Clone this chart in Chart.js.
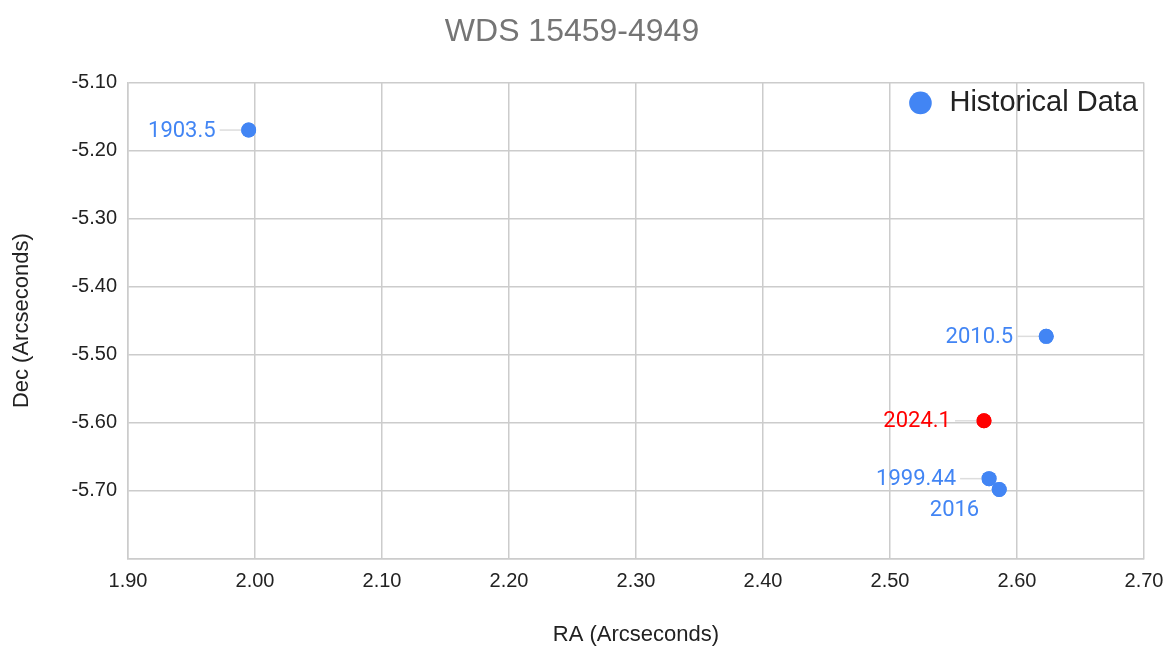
<!DOCTYPE html>
<html>
<head>
<meta charset="utf-8">
<script src="https://cdn.jsdelivr.net/npm/chart.js@4.4.1/dist/chart.umd.min.js"></script>
<style>
  body { margin: 0; background: #fff; }
  #wrap { width: 1169px; height: 648px; }
</style>
</head>
<body>
<div id="wrap"><canvas id="orbitChart" width="1169" height="648"></canvas></div>
<script>
// Medidas históricas (RA / Dec em segundos de arco)
const historyYears = ['1903.5', '1999.44', '2010.5', '2016'];
const historyRA = [1.995, 2.578, 2.623, 2.586];
const historyDec = [-5.170, -5.682, -5.473, -5.698];

// Medida nova
const latestYears = ['2024.1'];
const latestRA = [2.574];
const latestDec = [-5.597];

const xTicks = [1.90, 2.00, 2.10, 2.20, 2.30, 2.40, 2.50, 2.60, 2.70];
const yTicks = [-5.10, -5.20, -5.30, -5.40, -5.50, -5.60, -5.70];

const BLUE = '#4285f4';
const RED = '#ff0000';
const FONT = "'Liberation Sans', Arial, sans-serif";

// posição das etiquetas (dx, dy relativos ao ponto, leader = linha de ligação)
const labelPlacement = {
    '2016': { dx: -20, dy: 20, leader: false }
};

const toPoints = (xs, ys) => xs.map((x, i) => ({ x: x, y: ys[i] }));

// Desenha os anos ao lado de cada ponto
const pointLabels = {
    id: 'pointLabels',
    afterDatasetsDraw(chart) {
        const ctx = chart.ctx;
        ctx.save();
        ctx.font = "22px Roboto, 'Liberation Sans', sans-serif";
        ctx.textBaseline = 'middle';
        ctx.textAlign = 'right';
        chart.data.datasets.forEach((ds, di) => {
            const meta = chart.getDatasetMeta(di);
            meta.data.forEach((pt, i) => {
                const text = ds.yearLabels[i];
                const place = labelPlacement[text] || { dx: -33, dy: 0, leader: true };
                if (place.leader) {
                    ctx.strokeStyle = '#dddddd';
                    ctx.lineWidth = 1.5;
                    ctx.beginPath();
                    ctx.moveTo(pt.x - 29, pt.y);
                    ctx.lineTo(pt.x - 7, pt.y);
                    ctx.stroke();
                }
                ctx.fillStyle = ds.backgroundColor;
                ctx.fillText(text, pt.x + place.dx, pt.y + place.dy + 1);
            });
        });
        // redesenha os pontos por cima das linhas
        chart.data.datasets.forEach((ds, di) => {
            chart.getDatasetMeta(di).data.forEach(pt => pt.draw(ctx, chart.chartArea));
        });
        ctx.restore();
    }
};

// Move a legenda para o canto superior direito da área do gráfico
const legendTopRight = {
    id: 'legendTopRight',
    afterLayout(chart) {
        const lg = chart.legend;
        if (!lg || !lg.columnSizes || !lg.columnSizes.length) return;
        const pad = lg.options.labels.padding;
        const w = pad + lg.columnSizes[0].width;
        const area = chart.chartArea;
        lg.left = area.right - 6 - w;
        lg.right = lg.left + lg.width;
        lg.top = area.top;
        lg.bottom = lg.top + lg.height;
    }
};

const ctx = document.getElementById('orbitChart').getContext('2d');
new Chart(ctx, {
    type: 'scatter',
    data: {
        datasets: [
            {
                label: 'Historical Data',
                data: toPoints(historyRA, historyDec),
                yearLabels: historyYears,
                backgroundColor: BLUE,
                borderWidth: 0,
                pointRadius: 7.5,
                pointHoverRadius: 7.5
            },
            {
                label: 'Latest',
                data: toPoints(latestRA, latestDec),
                yearLabels: latestYears,
                backgroundColor: RED,
                borderWidth: 0,
                pointRadius: 7.5,
                pointHoverRadius: 7.5
            }
        ]
    },
    options: {
        responsive: false,
        animation: false,
        layout: { padding: { left: 0, right: 25, top: 0, bottom: 0 } },
        scales: {
            x: {
                type: 'linear',
                min: xTicks[0],
                max: xTicks[xTicks.length - 1],
                afterBuildTicks: scale => { scale.ticks = xTicks.map(v => ({ value: v })); },
                afterFit: scale => {
                    scale.height = 89;
                    scale.paddingRight = 18;
                },
                ticks: {
                    padding: 10,
                    color: '#222',
                    font: { family: FONT, size: 20 },
                    callback: v => Number(v).toFixed(2)
                },
                grid: { color: '#cccccc', lineWidth: 1.5, drawTicks: false },
                border: { color: '#cccccc', width: 1.5 },
                title: {
                    display: true,
                    text: 'RA (Arcseconds)',
                    color: '#222',
                    font: { family: FONT, size: 22 },
                    padding: { top: 0, bottom: 0 }
                }
            },
            y: {
                type: 'linear',
                min: -5.80,
                max: -5.10,
                afterBuildTicks: scale => { scale.ticks = [-5.80].concat(yTicks.slice().reverse()).map(v => ({ value: v })); },
                afterFit: scale => { scale.width = 128; },
                ticks: {
                    padding: 11,
                    color: '#222',
                    font: { family: FONT, size: 20 },
                    callback: v => (v < -5.75 ? '' : Number(v).toFixed(2))
                },
                grid: { color: '#cccccc', lineWidth: 1.5, drawTicks: false },
                border: { color: '#cccccc', width: 1.5 },
                title: {
                    display: true,
                    text: 'Dec (Arcseconds)',
                    color: '#222',
                    font: { family: FONT, size: 22 },
                    padding: { top: 9, bottom: 0 }
                }
            }
        },
        plugins: {
            title: {
                display: true,
                text: 'WDS 15459-4949',
                color: '#757575',
                font: { family: FONT, size: 32, weight: 'normal' },
                padding: { top: 13, bottom: 31 }
            },
            legend: {
                position: 'chartArea',
                align: 'start',
                labels: {
                    filter: item => item.datasetIndex === 0,
                    usePointStyle: true,
                    pointStyle: 'circle',
                    boxWidth: 29,
                    boxHeight: 16,
                    padding: 6,
                    color: '#222',
                    font: { family: FONT, size: 29 }
                }
            },
            tooltip: { enabled: false }
        }
    },
    plugins: [pointLabels, legendTopRight]
});
</script>
</body>
</html>
